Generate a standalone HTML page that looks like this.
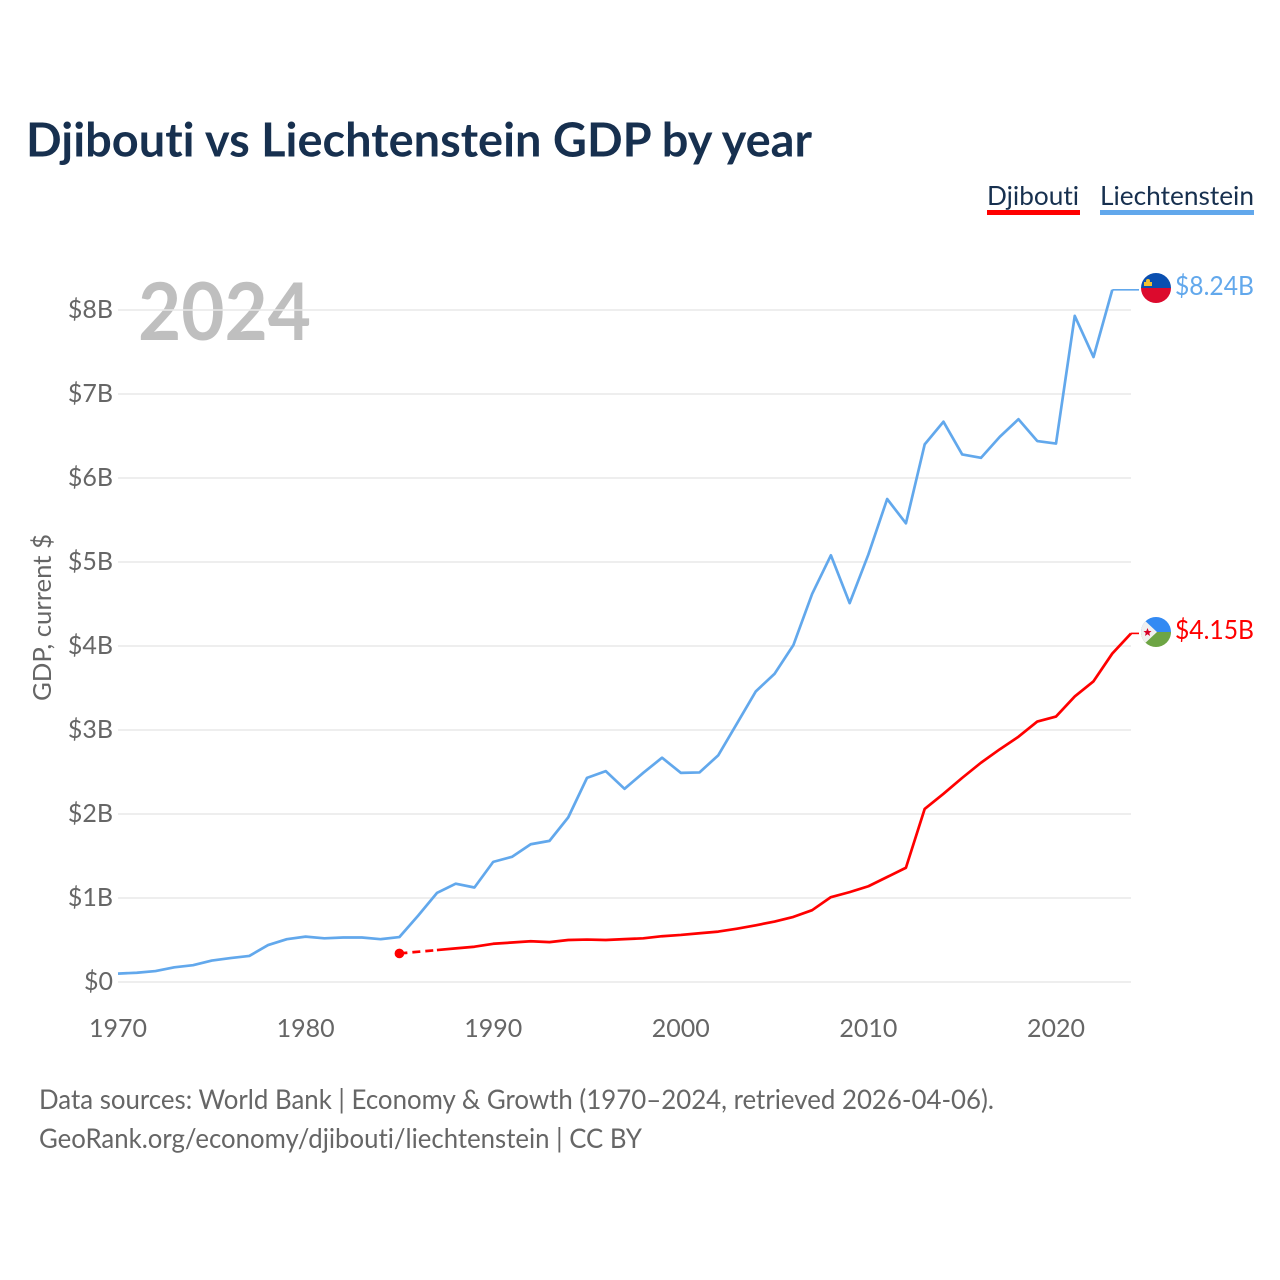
<!DOCTYPE html>
<html lang="en">
<head>
<meta charset="utf-8">
<title>Djibouti vs Liechtenstein GDP by year</title>
<style>
html,body{margin:0;padding:0;background:#fff;width:1280px;height:1280px;overflow:hidden}
svg{display:block}
text{font-family:"Lato","Carlito","Liberation Sans",sans-serif;font-variant-ligatures:none}
</style>
</head>
<body>
<svg id="chart" xmlns="http://www.w3.org/2000/svg" width="1280" height="1280" viewBox="0 0 1280 1280">
  <rect x="0" y="0" width="1280" height="1280" fill="#fff"/>
  <text x="26" y="156.5" font-size="47" font-weight="700" fill="#17304f" textLength="786" lengthAdjust="spacingAndGlyphs">Djibouti vs Liechtenstein GDP by year</text>
  <text x="987" y="205" font-size="26" fill="#17304f" textLength="92" lengthAdjust="spacingAndGlyphs">Djibouti</text>
  <rect x="987" y="210" width="93" height="5" fill="#ff0000"/>
  <text x="1100" y="205" font-size="26" fill="#17304f" textLength="154" lengthAdjust="spacingAndGlyphs">Liechtenstein</text>
  <rect x="1100" y="210" width="154" height="5" fill="#62a8ec"/>
  <text x="138" y="340" font-size="80" font-weight="700" fill="#808080" fill-opacity="0.5" textLength="173" lengthAdjust="spacingAndGlyphs">2024</text>
  <g id="grid"></g>
  <g id="yticks"></g>
  <g id="xticks"></g>
  <text transform="translate(51,701) rotate(-90)" font-size="25" fill="#666" textLength="167" lengthAdjust="spacingAndGlyphs">GDP, current $</text>
  <g id="series"></g>

  <defs>
    <clipPath id="clip-li"><circle cx="1156" cy="288" r="15"/></clipPath>
    <clipPath id="clip-dj"><circle cx="1156" cy="632" r="15"/></clipPath>
  </defs>
  <g clip-path="url(#clip-li)">
    <rect x="1141" y="273" width="30" height="15" fill="#0a4fb0"/>
    <rect x="1141" y="288" width="30" height="15" fill="#dc0a2d"/>
    <rect x="1144" y="282" width="8" height="4" fill="#f2c230"/>
    <circle cx="1148" cy="281" r="2" fill="#f2c230"/>
  </g>
  <g clip-path="url(#clip-dj)">
    <rect x="1141" y="617" width="30" height="15" fill="#338af3"/>
    <rect x="1141" y="632" width="30" height="15" fill="#6da544"/>
    <polygon points="1141,617 1157,632 1141,647" fill="#f0f0f0"/>
    <polygon points="1147.5,628 1148.7,631 1151.5,631 1149.3,633 1150,636 1147.5,634.3 1145,636 1145.7,633 1143.5,631 1146.3,631" fill="#d80027"/>
  </g>
  <text x="1175" y="295" font-size="26" fill="#62a8ec" textLength="79" lengthAdjust="spacingAndGlyphs">$8.24B</text>
  <text x="1175" y="639" font-size="26" fill="#ff0000" textLength="79" lengthAdjust="spacingAndGlyphs">$4.15B</text>

  <text x="39" y="1109" font-size="27" fill="#666" textLength="955" lengthAdjust="spacingAndGlyphs">Data sources: World Bank | Economy &amp; Growth (1970–2024, retrieved 2026-04-06).</text>
  <text x="39" y="1148" font-size="27" fill="#666" textLength="603" lengthAdjust="spacingAndGlyphs">GeoRank.org/economy/djibouti/liechtenstein | CC BY</text>
</svg>
<script>
const firstYear = 1970;
const yTickValues = [0, 1, 2, 3, 4, 5, 6, 7, 8];
const yTickLabels = ["$0", "$1B", "$2B", "$3B", "$4B", "$5B", "$6B", "$7B", "$8B"];
const xTickValues = [1970, 1980, 1990, 2000, 2010, 2020];
const liechtensteinValues = [0.10, 0.11, 0.13, 0.175, 0.20, 0.255, 0.285, 0.31, 0.44, 0.51,
  0.54, 0.52, 0.53, 0.53, 0.51, 0.535, 0.79, 1.06, 1.17, 1.125,
  1.43, 1.49, 1.64, 1.68, 1.96, 2.43, 2.51, 2.30, 2.49, 2.67,
  2.49, 2.495, 2.70, 3.08, 3.46, 3.67, 4.01, 4.62, 5.08, 4.51,
  5.09, 5.75, 5.46, 6.40, 6.67, 6.28, 6.24, 6.49, 6.70, 6.44,
  6.41, 7.93, 7.44, 8.24, null];
const djiboutiValues = [null, null, null, null, null, null, null, null, null, null,
  null, null, null, null, null, 0.34, null, 0.38, 0.40, 0.42,
  0.455, 0.47, 0.485, 0.475, 0.50, 0.505, 0.50, 0.51, 0.52, 0.545,
  0.56, 0.58, 0.60, 0.635, 0.675, 0.72, 0.775, 0.855, 1.01, 1.07,
  1.14, 1.25, 1.36, 2.06, 2.24, 2.43, 2.61, 2.77, 2.92, 3.10,
  3.16, 3.40, 3.58, 3.91, 4.15];

const NS = "http://www.w3.org/2000/svg";
const xScale = function (year) { return 118 + (year - 1970) * 18.76; };
const yScale = function (value) { return 982 - value * 84; };

function make(tag, attrs, parent) {
  const el = document.createElementNS(NS, tag);
  Object.keys(attrs).forEach(function (k) { el.setAttribute(k, attrs[k]); });
  parent.appendChild(el);
  return el;
}

const gridGroup = document.getElementById("grid");
const yGroup = document.getElementById("yticks");
const xGroup = document.getElementById("xticks");
const seriesGroup = document.getElementById("series");

yTickValues.forEach(function (v, i) {
  const line = make("line", {x1: 118, x2: 1131, y1: yScale(v), y2: yScale(v), stroke: "#e8e8e8", "stroke-width": 1.4}, gridGroup);
  
  
  const label = make("text", {x: 113, y: yScale(v) + 8, "font-size": 25, fill: "#666", "text-anchor": "end"}, yGroup);
  
  
  label.textContent = yTickLabels[i];
});

xTickValues.forEach(function (year) {
  const label = make("text", {x: xScale(year), y: 1037, "font-size": 25, fill: "#666", "text-anchor": "middle"}, xGroup);
  
  
  label.textContent = String(year);
});

function drawSeries(values, color) {
  let run = [];
  let lastPoint = null;
  let pendingGap = false;
  function flush() {
    if (run.length > 1) {
      const solid = make("polyline", {points: run.join(" "), fill: "none", stroke: color, "stroke-width": 2.7, "stroke-linejoin": "round"}, seriesGroup);
      
      
    } else if (run.length === 1) {
      const parts = run[0].split(",");
      const dot = make("circle", {cx: parts[0], cy: parts[1], r: 4.8, fill: color}, seriesGroup);
      
      
    }
    run = [];
  }
  values.forEach(function (v, i) {
    if (v === null) {
      if (lastPoint) { pendingGap = true; flush(); }
      return;
    }
    const x = xScale(firstYear + i);
    const y = yScale(v);
    if (pendingGap && lastPoint) {
      const dash = make("line", {x1: lastPoint[0], y1: lastPoint[1], x2: x, y2: y, stroke: color, "stroke-width": 2.7, "stroke-dasharray": "8 5"}, seriesGroup);
      
      
    }
    pendingGap = false;
    run.push(x + "," + y);
    lastPoint = [x, y];
  });
  flush();
  if (lastPoint) {
    const leader = make("line", {x1: lastPoint[0], y1: lastPoint[1], x2: 1139, y2: lastPoint[1], stroke: color, "stroke-width": 1.6}, seriesGroup);
    
    
  }
}

drawSeries(liechtensteinValues, "#62a8ec");
drawSeries(djiboutiValues, "#ff0000");
</script>
</body>
</html>
